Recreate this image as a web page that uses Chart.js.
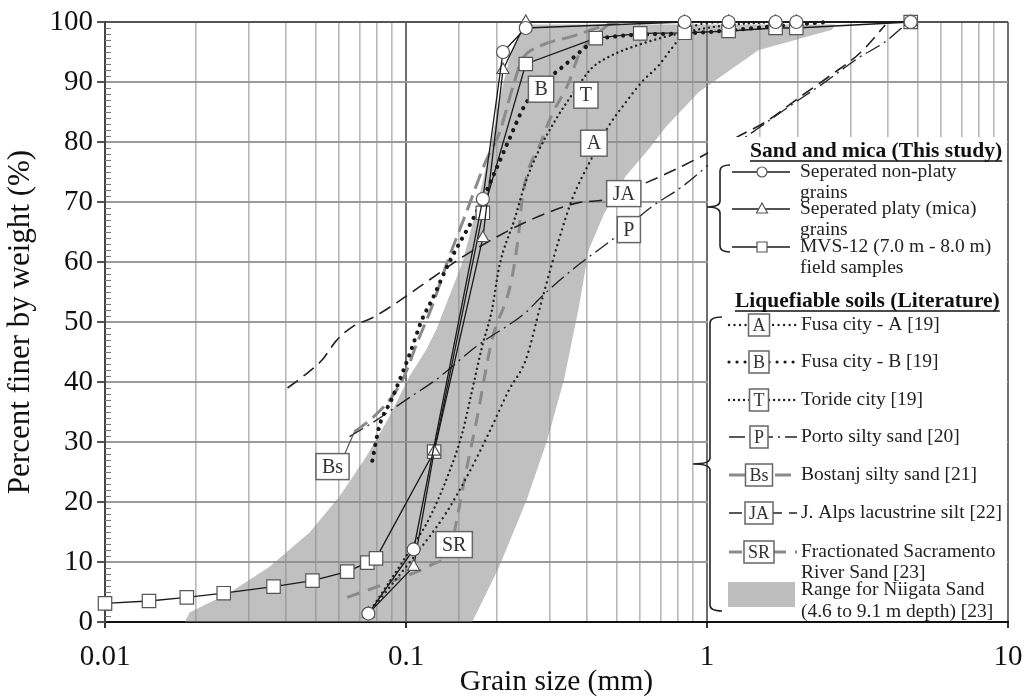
<!DOCTYPE html>
<html><head><meta charset="utf-8">
<script src="https://cdn.jsdelivr.net/npm/chart.js@4.4.1/dist/chart.umd.min.js"></script>
<style>html,body{margin:0;padding:0;background:#fff;}#wrap{width:1026px;height:698px;}</style>
</head><body><div id="wrap"><canvas id="c" width="1026" height="698"></canvas></div>
<script>
// ---------- data (grain size in mm, percent finer) ----------
const xDecades = [0.01, 0.1, 1, 10];
const yTickValues = [0,10,20,30,40,50,60,70,80,90,100];

const nonPlatyX = [0.075, 0.106, 0.18, 0.21, 0.25, 0.843, 1.18, 1.69, 1.98, 4.75];
const nonPlatyY = [1.4, 12.1, 70.5, 95, 99, 100, 100, 100, 100, 100];

const platyX = [0.075, 0.106, 0.124, 0.18, 0.21, 0.25, 0.843, 1.18, 1.69, 1.98, 4.75];
const platyY = [1.4, 9.2, 28.4, 64, 92, 100, 100, 100, 100, 100, 100];

const mvsX = [0.01, 0.014, 0.0187, 0.0248, 0.0363, 0.0489, 0.0638, 0.0744, 0.0795, 0.124, 0.18, 0.25, 0.427, 0.6, 0.843, 1.18, 1.69, 1.98, 4.75];
const mvsY = [3.1, 3.5, 4.1, 4.8, 5.9, 6.9, 8.4, 9.9, 10.6, 28.4, 68.2, 93, 97.3, 98.1, 98.2, 98.5, 99, 99, 100];

const fusaAX = [0.075, 0.113, 0.136, 0.162, 0.189, 0.22, 0.25, 0.283, 0.322, 0.356, 0.411, 0.472, 0.537, 0.607, 0.692, 0.763, 0.843, 0.94, 1.18];
const fusaAY = [1.4, 12.6, 18.2, 24.9, 31.6, 38.7, 43.7, 53.7, 63.7, 70.4, 77, 82.7, 86.6, 90, 92.8, 95.6, 98.2, 99.6, 100];

const fusaBX = [0.0773, 0.0815, 0.0894, 0.0973, 0.104, 0.113, 0.122, 0.139, 0.171, 0.199, 0.22, 0.25, 0.294, 0.34, 0.405, 0.437, 0.843, 1.69, 2.5];
const fusaBY = [26.9, 32.6, 37.0, 41.5, 45.3, 50.4, 53.7, 59.9, 68.2, 75.4, 80.4, 86.4, 90.3, 93, 96.2, 97.2, 98.1, 99.3, 100];

const torideX = [0.075, 0.105, 0.119, 0.139, 0.154, 0.166, 0.179, 0.193, 0.204, 0.229, 0.25, 0.277, 0.315, 0.361, 0.414, 0.472, 0.593, 0.824, 1.18, 1.69];
const torideY = [1.4, 12.6, 17.1, 24.9, 31.6, 38.7, 45.9, 52, 59.2, 67, 73.4, 78.7, 83.8, 88.3, 92.3, 94.2, 96.2, 98.2, 99.5, 100];

const portoX = [0.0649, 0.0773, 0.1026, 0.126, 0.171, 0.25, 0.283, 0.367, 0.483, 0.655, 0.824, 1.09, 1.48, 1.91, 2.47, 3.18, 3.91, 4.66];
const portoY = [30.9, 33.2, 37.4, 40.4, 45.9, 51.6, 54.3, 59.2, 63.7, 69.2, 72.5, 77.5, 82.3, 86.2, 90, 94, 96.7, 100];

const bostanjX = [0.0674, 0.0773, 0.0894, 0.0985, 0.109, 0.122, 0.137, 0.1585, 0.1845, 0.204, 0.225, 0.243, 0.276, 0.356, 0.437, 0.51];
const bostanjY = [31.7, 34, 37.4, 40.9, 46.6, 52.6, 59.9, 68.2, 76.9, 81.4, 88.7, 93.7, 95.9, 97.6, 99.1, 100];

const alpsX = [0.0404, 0.0454, 0.0527, 0.0587, 0.0663, 0.0773, 0.093, 0.1195, 0.1537, 0.199, 0.256, 0.375, 0.461, 0.607, 0.746, 1.01, 1.30, 1.56, 2.01, 2.59, 3.25, 3.91];
const alpsY = [39.0, 40.9, 43.7, 46.9, 49.2, 50.7, 53.2, 57.0, 60.8, 64.1, 66.9, 69.9, 70.4, 72.9, 74.9, 78.2, 81.2, 83.3, 87.3, 91.2, 95, 99.5];

const sacramentoX = [0.0638, 0.093, 0.122, 0.141, 0.146, 0.158, 0.171, 0.193, 0.223, 0.237, 0.243, 0.283, 0.305, 0.348, 0.375, 0.428, 0.47];
const sacramentoY = [4.1, 7.1, 9.6, 12.4, 15.9, 24.9, 33.2, 47.0, 56.5, 64.9, 70.4, 80.4, 84.5, 90, 94.5, 97.8, 99.6];

// Niigata range: fine boundary (bottom to top) then coarse boundary (top to bottom)
const niigataX = [0.0184, 0.0191, 0.026, 0.0352, 0.0478, 0.0601, 0.0738, 0.088, 0.1026, 0.1168, 0.126, 0.154, 0.171, 0.19, 0.204, 0.22, 0.237, 0.256,
                  2.67, 2.6, 1.48, 0.938, 0.73, 0.64, 0.537, 0.454, 0.405, 0.375, 0.335, 0.295, 0.252, 0.204, 0.166];
const niigataY = [0, 1.6, 4.9, 9.2, 14.9, 20.9, 27.6, 34.2, 40.9, 45.4, 48.7, 59.9, 68.7, 78.7, 87, 93.7, 97.9, 99.6,
                  99.6, 98.7, 95.3, 88.3, 82.5, 78.8, 74.3, 67.9, 62.1, 52.4, 40.4, 30.4, 20.4, 9.2, 0];

// curve tags placed in data coordinates
const tagText = ['B', 'T', 'A', 'JA', 'P', 'Bs', 'SR'];
const tagX = [0.281, 0.396, 0.421, 0.529, 0.55, 0.057, 0.1445];
const tagY = [88.8, 87.8, 79.8, 71.4, 65.4, 25.9, 12.9];

const legendStudy = [['Seperated non-platy', 'grains'], ['Seperated platy (mica)', 'grains'], ['MVS-12 (7.0 m - 8.0 m)', 'field samples']];
const legendLit = [['A', 'Fusa city - A [19]'], ['B', 'Fusa city - B [19]'], ['T', 'Toride city [19]'], ['P', 'Porto silty sand [20]'],
                   ['Bs', 'Bostanj silty sand [21]'], ['JA', 'J. Alps lacustrine silt [22]'], ['SR', 'Fractionated Sacramento', 'River Sand [23]']];
const legendRange = ['Range for Niigata Sand', '(4.6 to 9.1 m depth) [23]'];

// ---------- chart ----------
const SERIF = "'Liberation Serif', 'Times New Roman', serif";
const pts = (xs, ys) => xs.map((x, i) => ({x: x, y: ys[i]}));
const isDecade = v => { const l = Math.log10(v); return Math.abs(l - Math.round(l)) < 1e-6; };

const litStyles = {
  A:  {borderColor: '#222', borderWidth: 2.4, borderDash: [0.01, 5.5], borderCapStyle: 'round'},
  B:  {borderColor: '#1a1a1a', borderWidth: 4.2, borderDash: [0.01, 8], borderCapStyle: 'round'},
  T:  {borderColor: '#222', borderWidth: 2.4, borderDash: [0.01, 5], borderCapStyle: 'round'},
  P:  {borderColor: '#222', borderWidth: 1.3, borderDash: [16, 5, 2, 5]},
  Bs: {borderColor: '#8a8a8a', borderWidth: 3, borderDash: [16, 7]},
  JA: {borderColor: '#222', borderWidth: 1.6, borderDash: [13, 7]},
  SR: {borderColor: '#8a8a8a', borderWidth: 3, borderDash: [13, 9]}
};

function litSet(label, xs, ys, key) {
  return Object.assign({label: label, data: pts(xs, ys), pointRadius: 0, fill: false,
    cubicInterpolationMode: 'monotone', order: 10, clip: false}, litStyles[key]);
}
function studySet(label, xs, ys, style, r, order) {
  return {label: label, data: pts(xs, ys), borderColor: '#1a1a1a', borderWidth: 1.3, pointStyle: style,
    pointRadius: r, pointBackgroundColor: '#fff', pointBorderColor: '#555', pointBorderWidth: 1.2,
    fill: false, tension: 0, order: order, clip: false};
}

const datasets = [
  studySet('Seperated non-platy grains', nonPlatyX, nonPlatyY, 'circle', 6.5, 1),
  studySet('Seperated platy (mica) grains', platyX, platyY, 'triangle', 7, 2),
  studySet('MVS-12 (7.0 m - 8.0 m) field samples', mvsX, mvsY, 'rect', 9.5, 3),
  litSet('Fusa city - A [19]', fusaAX, fusaAY, 'A'),
  litSet('Fusa city - B [19]', fusaBX, fusaBY, 'B'),
  litSet('Toride city [19]', torideX, torideY, 'T'),
  litSet('Porto silty sand [20]', portoX, portoY, 'P'),
  litSet('Bostanj silty sand [21]', bostanjX, bostanjY, 'Bs'),
  litSet('J. Alps lacustrine silt [22]', alpsX, alpsY, 'JA'),
  litSet('Fractionated Sacramento River Sand [23]', sacramentoX, sacramentoY, 'SR'),
  {label: 'Range for Niigata Sand', data: pts(niigataX, niigataY), fill: 'shape',
   backgroundColor: 'rgba(140,140,140,0.55)', borderColor: 'rgba(0,0,0,0)', borderWidth: 0,
   pointRadius: 0, tension: 0, order: 100}
];

function boxLabel(ctx, cx, cy, text, size, padX, h) {
  ctx.font = size + 'px ' + SERIF;
  const w = ctx.measureText(text).width + 2 * padX;
  ctx.fillStyle = '#fff';
  ctx.fillRect(cx - w / 2, cy - h / 2, w, h);
  ctx.strokeStyle = '#666'; ctx.lineWidth = 1.5; ctx.setLineDash([]);
  ctx.strokeRect(cx - w / 2, cy - h / 2, w, h);
  ctx.fillStyle = '#333'; ctx.textAlign = 'center'; ctx.textBaseline = 'middle';
  ctx.fillText(text, cx, cy + 1);
  return w;
}
function bracket(ctx, x, y1, y2, ym, tipX, hook) {
  ctx.beginPath();
  ctx.moveTo(x + hook, y1);
  ctx.quadraticCurveTo(x, y1, x, y1 + 6);
  ctx.lineTo(x, ym - 6);
  ctx.quadraticCurveTo(x, ym, tipX, ym);
  ctx.quadraticCurveTo(x, ym, x, ym + 6);
  ctx.lineTo(x, y2 - 6);
  ctx.quadraticCurveTo(x, y2, x + hook, y2);
  ctx.stroke();
}
function heading(ctx, text, x, y, maxW) {
  ctx.font = 'bold 21.5px ' + SERIF;
  ctx.fillStyle = '#111'; ctx.textAlign = 'left'; ctx.textBaseline = 'middle';
  const w = Math.min(ctx.measureText(text).width, maxW);
  ctx.fillText(text, x, y, maxW);
  ctx.strokeStyle = '#111'; ctx.lineWidth = 1.5; ctx.setLineDash([]);
  ctx.beginPath(); ctx.moveTo(x, y + 10); ctx.lineTo(x + w, y + 10); ctx.stroke();
}
function marker(ctx, style, x, y) {
  ctx.fillStyle = '#fff'; ctx.strokeStyle = '#555'; ctx.lineWidth = 1.2; ctx.setLineDash([]);
  ctx.beginPath();
  if (style === 'circle') ctx.arc(x, y, 5, 0, Math.PI * 2);
  else if (style === 'triangle') { ctx.moveTo(x, y - 6); ctx.lineTo(x + 5.5, y + 4); ctx.lineTo(x - 5.5, y + 4); ctx.closePath(); }
  else ctx.rect(x - 5, y - 5, 10, 10);
  ctx.fill(); ctx.stroke();
}

const minorTicks = {
  id: 'minorTicks',
  beforeDatasetsDraw(chart) {
    const ctx = chart.ctx, ys = chart.scales.y, ca = chart.chartArea;
    ctx.save(); ctx.strokeStyle = '#777'; ctx.lineWidth = 1;
    for (let v = 1; v < 100; v++) {
      if (v % 10 === 0) continue;
      const py = Math.round(ys.getPixelForValue(v)) + 0.5;
      ctx.beginPath(); ctx.moveTo(ca.left, py); ctx.lineTo(ca.left + 6, py); ctx.stroke();
    }
    ctx.restore();
  }
};

const tags = {
  id: 'tags',
  afterDatasetsDraw(chart) {
    const ctx = chart.ctx, xs = chart.scales.x, ys = chart.scales.y;
    ctx.save();
    const bi = tagText.indexOf('Bs');
    const bx = xs.getPixelForValue(tagX[bi]), by = ys.getPixelForValue(tagY[bi]);
    const sx = xs.getPixelForValue(bostanjX[0]), sy = ys.getPixelForValue(bostanjY[0]);
    ctx.strokeStyle = '#555'; ctx.lineWidth = 1.2;
    ctx.beginPath(); ctx.moveTo(bx + 12, by - 12); ctx.lineTo(sx, sy); ctx.stroke();
    for (let i = 0; i < tagText.length; i++) {
      boxLabel(ctx, xs.getPixelForValue(tagX[i]), ys.getPixelForValue(tagY[i]), tagText[i], 20, 6, 26);
    }
    ctx.restore();
  }
};

const legendBox = {
  id: 'legendBox',
  afterDraw(chart) {
    const ctx = chart.ctx, ca = chart.chartArea;
    ctx.save();
    const L = 708, T = 137;
    ctx.fillStyle = '#fff';
    ctx.fillRect(L, T, ca.right - 1 - L, ca.bottom - 1 - T);

    heading(ctx, 'Sand and mica (This study)', 750, 151, 255);
    heading(ctx, 'Liquefiable soils (Literature)', 735, 301, 270);

    ctx.strokeStyle = '#222'; ctx.lineWidth = 1.6; ctx.setLineDash([]);
    bracket(ctx, 720, 165, 252, 207, 707, 10);
    bracket(ctx, 710, 317, 611, 464, 693, 12);

    const textFont = '19.5px ' + SERIF;
    const studyRows = [172, 209, 247];
    const studyMarks = ['circle', 'triangle', 'rect'];
    for (let i = 0; i < legendStudy.length; i++) {
      const y = studyRows[i];
      ctx.strokeStyle = '#1a1a1a'; ctx.lineWidth = 1.4; ctx.setLineDash([]);
      ctx.beginPath(); ctx.moveTo(732, y); ctx.lineTo(790, y); ctx.stroke();
      marker(ctx, studyMarks[i], 762, y);
      ctx.font = textFont; ctx.fillStyle = '#222'; ctx.textAlign = 'left'; ctx.textBaseline = 'middle';
      ctx.fillText(legendStudy[i][0], 800, y);
      ctx.fillText(legendStudy[i][1], 800, y + 21);
    }

    const litRows = [325, 362, 400, 437, 475, 513, 552];
    for (let i = 0; i < legendLit.length; i++) {
      const y = litRows[i], key = legendLit[i][0], st = litStyles[key];
      ctx.strokeStyle = st.borderColor; ctx.lineWidth = Math.min(st.borderWidth, 3.2);
      ctx.setLineDash(st.borderDash); ctx.lineCap = st.borderCapStyle || 'butt';
      ctx.beginPath(); ctx.moveTo(729, y); ctx.lineTo(797, y); ctx.stroke();
      ctx.lineCap = 'butt';
      boxLabel(ctx, 759, y, key, 18, 4, 22);
      ctx.font = textFont; ctx.fillStyle = '#222'; ctx.textAlign = 'left'; ctx.textBaseline = 'middle';
      ctx.fillText(legendLit[i][1], 801, y, 204);
      if (legendLit[i][2]) ctx.fillText(legendLit[i][2], 801, y + 21);
    }
    ctx.fillStyle = 'rgb(190,190,190)';
    ctx.fillRect(728, 582, 67, 25);
    ctx.font = textFont; ctx.fillStyle = '#222'; ctx.textAlign = 'left'; ctx.textBaseline = 'middle';
    ctx.fillText(legendRange[0], 801, 590);
    ctx.fillText(legendRange[1], 801, 612, 204);
    ctx.restore();
  }
};

new Chart(document.getElementById('c'), {
  type: 'line',
  data: {datasets: datasets},
  options: {
    responsive: false,
    animation: false,
    events: [],
    layout: {padding: {top: 22, right: 18, left: 0, bottom: 0}},
    plugins: {legend: {display: false}, tooltip: {enabled: false}},
    scales: {
      x: {
        type: 'logarithmic', min: 0.01, max: 10,
        afterFit: s => { s.height = 76; s.paddingLeft = 0; s.paddingRight = 0; },
        afterBuildTicks: s => { s.ticks = s.ticks.filter(t => t.value >= 0.01 - 1e-9 && t.value <= 10 + 1e-9); },
        ticks: {autoSkip: false, maxRotation: 0, padding: 12, color: '#111',
                font: {family: SERIF, size: 29},
                callback: v => (isDecade(v) ? xDecades.find(d => Math.abs(d - v) / d < 1e-6).toString() : '')},
        grid: {
          color: c => (c.tick && isDecade(c.tick.value)) ? '#6e6e6e' : '#b8b8b8',
          lineWidth: c => (c.tick && isDecade(c.tick.value)) ? 2 : 1.6,
          tickColor: c => (c.tick && isDecade(c.tick.value)) ? '#333' : 'rgba(0,0,0,0)',
          tickLength: 6
        },
        border: {color: '#111', width: 2},
        title: {display: true, text: 'Grain size (mm)', color: '#111', font: {family: SERIF, size: 29.5}, padding: {top: 0, bottom: -2}}
      },
      y: {
        min: 0, max: 100,
        afterFit: s => { s.width = 105; },
        afterBuildTicks: s => { s.ticks = yTickValues.map(v => ({value: v})); },
        ticks: {stepSize: 10, padding: 4, color: '#111', font: {family: SERIF, size: 29}},
        grid: {
          color: c => (c.tick && c.tick.value === 100) ? '#555' : '#9a9a9a',
          lineWidth: 2, tickLength: 8, tickColor: '#555'
        },
        border: {color: '#444', width: 2},
        title: {display: true, text: 'Percent finer by weight (%)', color: '#111', font: {family: SERIF, size: 31}, padding: {top: 2, bottom: 0}}
      }
    }
  },
  plugins: [minorTicks, tags, legendBox]
});
</script></body></html>
